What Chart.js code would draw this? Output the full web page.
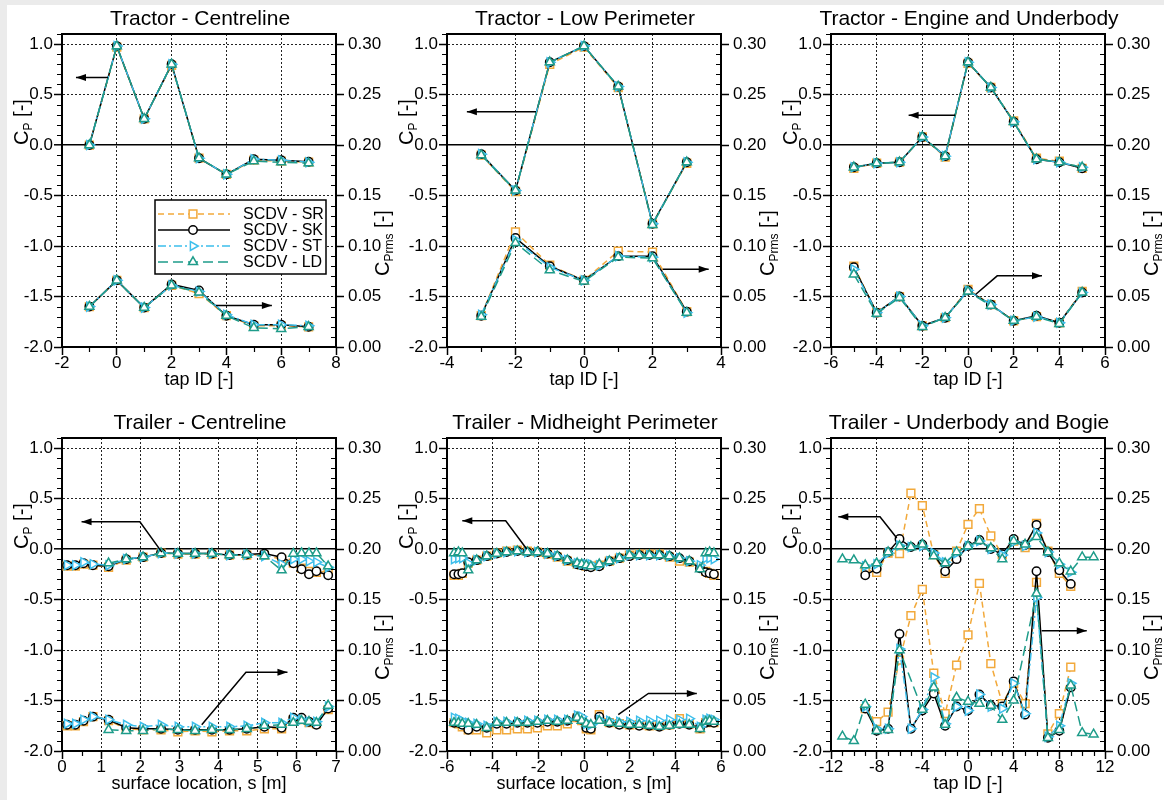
<!DOCTYPE html>
<html>
<head>
<meta charset="utf-8">
<script src="https://cdn.jsdelivr.net/npm/chart.js@4.4.1/dist/chart.umd.min.js"></script>
<style>
  html, body { margin: 0; padding: 0; width: 1164px; height: 800px; overflow: hidden; background: #fff; }
  #bg { position: absolute; left: 0; top: 0; width: 1164px; height: 800px; box-sizing: border-box;
        border-top: 5px solid #ebebeb; border-left: 7px solid #ebebeb; }
  canvas { position: absolute; }
</style>
</head>
<body>
<div id="bg"></div>
<canvas id="c1" width="400" height="396" style="left:0px;top:0px"></canvas>
<canvas id="c2" width="400" height="396" style="left:385px;top:0px"></canvas>
<canvas id="c3" width="400" height="396" style="left:769px;top:0px"></canvas>
<canvas id="c4" width="400" height="396" style="left:0px;top:404px"></canvas>
<canvas id="c5" width="400" height="396" style="left:385px;top:404px"></canvas>
<canvas id="c6" width="400" height="396" style="left:769px;top:404px"></canvas>
<script>
// ---- Tractor - Centreline ----
const t1X = [-1, 0, 1, 2, 3, 4, 5, 6, 7];
const t1CpSR = [0.00, 0.97, 0.26, 0.79, -0.13, -0.29, -0.15, -0.16, -0.17];
const t1CpSK = [0.00, 0.98, 0.26, 0.80, -0.13, -0.29, -0.14, -0.15, -0.165];
const t1CpST = [0.00, 0.98, 0.26, 0.80, -0.13, -0.29, -0.14, -0.15, -0.17];
const t1CpLD = [0.00, 0.98, 0.26, 0.80, -0.13, -0.29, -0.16, -0.17, -0.18];
const t1RmsSR = [0.040, 0.066, 0.039, 0.061, 0.053, 0.031, 0.021, 0.021, 0.020];
const t1RmsSK = [0.040, 0.066, 0.039, 0.062, 0.056, 0.031, 0.022, 0.022, 0.020];
const t1RmsST = [0.040, 0.066, 0.039, 0.061, 0.055, 0.032, 0.022, 0.022, 0.021];
const t1RmsLD = [0.040, 0.066, 0.039, 0.061, 0.054, 0.031, 0.019, 0.018, 0.020];

// ---- Tractor - Low Perimeter ----
const t2X = [-3, -2, -1, 0, 1, 2, 3];
const t2CpSR = [-0.10, -0.46, 0.80, 0.97, 0.57, -0.78, -0.18];
const t2CpSK = [-0.09, -0.45, 0.82, 0.98, 0.58, -0.78, -0.17];
const t2CpST = [-0.09, -0.45, 0.82, 0.98, 0.58, -0.78, -0.17];
const t2CpLD = [-0.10, -0.45, 0.82, 0.98, 0.58, -0.79, -0.17];
const t2RmsSR = [0.031, 0.114, 0.081, 0.066, 0.095, 0.094, 0.035];
const t2RmsSK = [0.031, 0.108, 0.080, 0.066, 0.090, 0.090, 0.035];
const t2RmsST = [0.032, 0.106, 0.079, 0.066, 0.090, 0.089, 0.034];
const t2RmsLD = [0.030, 0.103, 0.076, 0.065, 0.089, 0.088, 0.034];

// ---- Tractor - Engine and Underbody ----
const t3X = [-5, -4, -3, -2, -1, 0, 1, 2, 3, 4, 5];
const t3CpSR = [-0.23, -0.18, -0.17, 0.08, -0.12, 0.81, 0.57, 0.24, -0.13, -0.16, -0.23];
const t3CpSK = [-0.22, -0.18, -0.17, 0.08, -0.11, 0.82, 0.57, 0.23, -0.14, -0.17, -0.23];
const t3CpST = [-0.22, -0.18, -0.17, 0.08, -0.11, 0.82, 0.57, 0.23, -0.14, -0.17, -0.22];
const t3CpLD = [-0.22, -0.18, -0.17, 0.08, -0.11, 0.82, 0.57, 0.23, -0.14, -0.17, -0.22];
const t3RmsSR = [0.080, 0.034, 0.050, 0.021, 0.029, 0.057, 0.042, 0.026, 0.030, 0.024, 0.055];
const t3RmsSK = [0.079, 0.034, 0.050, 0.021, 0.029, 0.056, 0.042, 0.026, 0.031, 0.024, 0.054];
const t3RmsST = [0.077, 0.034, 0.050, 0.021, 0.029, 0.056, 0.042, 0.026, 0.030, 0.024, 0.054];
const t3RmsLD = [0.072, 0.033, 0.049, 0.020, 0.029, 0.055, 0.041, 0.026, 0.030, 0.023, 0.054];

// ---- Trailer - Centreline ----
const r1X = [0.13, 0.34, 0.55, 0.79, 1.19, 1.64, 2.07, 2.53, 2.96, 3.40, 3.83, 4.28, 4.72, 5.17, 5.61, 5.91, 6.12, 6.31, 6.50, 6.80];
const r1CpSR = [-0.17, -0.17, -0.15, -0.16, -0.18, -0.11, -0.08, -0.04, -0.05, -0.05, -0.05, -0.06, -0.06, -0.06, -0.10, -0.14, -0.19, -0.22, -0.23, -0.22];
const r1CpSK = [-0.16, -0.16, -0.14, -0.16, -0.17, -0.10, -0.08, -0.04, -0.045, -0.045, -0.045, -0.06, -0.055, -0.045, -0.08, -0.14, -0.20, -0.25, -0.22, -0.26];
const r1CpST = [-0.16, -0.16, -0.13, -0.15, -0.16, -0.10, -0.08, -0.04, -0.045, -0.045, -0.045, -0.06, -0.055, -0.07, -0.15, -0.10, -0.10, -0.12, -0.13, -0.18];
const r1CpLD = [null, null, null, null, -0.14, -0.10, -0.08, -0.04, -0.045, -0.045, -0.045, -0.06, -0.055, -0.07, -0.21, -0.045, -0.04, -0.04, -0.04, -0.17];
const r1RmsSR = [0.025, 0.025, 0.029, 0.034, 0.030, 0.022, 0.021, 0.021, 0.019, 0.020, 0.019, 0.020, 0.020, 0.022, 0.022, 0.031, 0.031, 0.028, 0.027, 0.041];
const r1RmsSK = [0.026, 0.026, 0.030, 0.034, 0.031, 0.023, 0.022, 0.022, 0.021, 0.021, 0.021, 0.021, 0.022, 0.024, 0.023, 0.033, 0.033, 0.029, 0.026, 0.042];
const r1RmsST = [0.027, 0.027, 0.031, 0.034, 0.031, 0.026, 0.024, 0.026, 0.024, 0.024, 0.024, 0.024, 0.025, 0.028, 0.028, 0.033, 0.031, 0.029, 0.029, 0.044];
const r1RmsLD = [null, null, null, null, 0.021, 0.020, 0.020, 0.022, 0.021, 0.020, 0.021, 0.021, 0.022, 0.025, 0.026, 0.028, 0.030, 0.029, 0.028, 0.045];

// ---- Trailer - Midheight Perimeter ----
const r2X = [-5.69, -5.50, -5.33, -5.07, -4.70, -4.26, -3.82, -3.39, -2.92, -2.48, -2.04, -1.60, -1.17, -0.73, -0.30, -0.10,
             0.10, 0.30, 0.67, 1.11, 1.55, 1.99, 2.42, 2.86, 3.30, 3.74, 4.18, 4.61, 5.08, 5.33, 5.50, 5.69];
const r2CpSR = [-0.26, -0.26, -0.24, -0.14, -0.11, -0.07, -0.04, -0.02, -0.01, -0.02, -0.03, -0.05, -0.08, -0.12, -0.15, -0.16,
                -0.17, -0.17, -0.16, -0.12, -0.09, -0.06, -0.05, -0.05, -0.05, -0.08, -0.12, -0.13, -0.18, -0.22, -0.24, -0.26];
const r2CpSK = [-0.25, -0.25, -0.24, -0.13, -0.11, -0.07, -0.045, -0.03, -0.02, -0.03, -0.03, -0.045, -0.07, -0.11, -0.15, -0.16,
                -0.17, -0.18, -0.17, -0.12, -0.09, -0.07, -0.06, -0.06, -0.06, -0.07, -0.09, -0.12, -0.19, -0.23, -0.24, -0.25];
const r2CpST = [-0.10, -0.09, -0.09, -0.14, -0.11, -0.07, -0.045, -0.03, -0.02, -0.03, -0.03, -0.045, -0.07, -0.11, -0.14, -0.15,
                -0.15, -0.15, -0.16, -0.12, -0.09, -0.06, -0.06, -0.06, -0.06, -0.07, -0.09, -0.12, -0.16, -0.09, -0.09, -0.10];
const r2CpLD = [-0.04, -0.03, -0.04, -0.21, -0.11, -0.07, -0.045, -0.03, -0.02, -0.03, -0.03, -0.045, -0.07, -0.11, -0.14, -0.15,
                -0.16, -0.17, -0.15, -0.12, -0.09, -0.06, -0.06, -0.06, -0.06, -0.07, -0.09, -0.12, -0.20, -0.04, -0.03, -0.04];
const r2RmsSR = [0.028, 0.027, 0.024, 0.021, 0.021, 0.018, 0.021, 0.021, 0.022, 0.022, 0.023, 0.025, 0.025, 0.027, 0.033, 0.030,
                 0.022, 0.021, 0.036, 0.028, 0.027, 0.026, 0.026, 0.025, 0.025, 0.026, 0.032, 0.027, 0.022, 0.028, 0.029, 0.028];
const r2RmsSK = [0.028, 0.028, 0.026, 0.021, 0.024, 0.023, 0.027, 0.027, 0.028, 0.028, 0.028, 0.029, 0.029, 0.030, 0.034, 0.031,
                 0.023, 0.022, 0.034, 0.028, 0.026, 0.026, 0.025, 0.025, 0.024, 0.026, 0.027, 0.026, 0.023, 0.028, 0.029, 0.028];
const r2RmsST = [0.033, 0.032, 0.030, 0.028, 0.027, 0.025, 0.029, 0.029, 0.029, 0.030, 0.030, 0.031, 0.031, 0.031, 0.035, 0.034,
                 0.027, 0.026, 0.031, 0.030, 0.029, 0.029, 0.030, 0.030, 0.030, 0.031, 0.031, 0.032, 0.024, 0.031, 0.032, 0.031];
const r2RmsLD = [0.028, 0.028, 0.027, 0.027, 0.026, 0.023, 0.028, 0.028, 0.028, 0.028, 0.029, 0.030, 0.029, 0.030, 0.033, 0.030,
                 0.027, 0.026, 0.030, 0.028, 0.027, 0.026, 0.026, 0.025, 0.024, 0.025, 0.026, 0.026, 0.022, 0.029, 0.030, 0.029];

// ---- Trailer - Underbody and Bogie ----
const r3X = [-11, -10, -9, -8, -7, -6, -5, -4, -3, -2, -1, 0, 1, 2, 3, 4, 5, 6, 7, 8, 9, 10, 11];
const r3CpSR = [null, null, -0.20, -0.23, -0.04, -0.045, 0.555, 0.43, -0.055, -0.24, -0.02, 0.245, 0.40, 0.13, -0.055, 0.08, 0.015, 0.255, -0.02, -0.24, -0.37, null, null];
const r3CpSK = [null, null, -0.26, -0.195, -0.03, 0.10, 0.02, 0.045, -0.05, -0.22, -0.10, 0.03, 0.09, 0.00, -0.05, 0.10, 0.04, 0.24, -0.03, -0.21, -0.345, null, null];
const r3CpST = [null, null, -0.17, -0.15, -0.04, 0.035, 0.02, 0.03, -0.04, -0.13, -0.04, 0.03, 0.08, 0.00, -0.06, 0.07, 0.03, 0.16, -0.03, -0.15, -0.23, null, null];
const r3CpLD = [-0.10, -0.11, -0.16, -0.14, -0.03, 0.03, 0.02, 0.045, -0.07, -0.14, -0.03, 0.03, 0.08, 0.01, -0.10, 0.08, 0.045, 0.12, -0.03, -0.14, -0.22, -0.08, -0.08];
const r3RmsSR = [null, null, 0.042, 0.029, 0.0385, 0.090, 0.134, 0.160, 0.077, 0.037, 0.085, 0.115, 0.166, 0.0865, 0.047, 0.067, 0.047, 0.167, 0.017, 0.037, 0.083, null, null];
const r3RmsSK = [null, null, 0.042, 0.020, 0.022, 0.116, 0.022, 0.040, 0.057, 0.025, 0.044, 0.040, 0.056, 0.045, 0.044, 0.069, 0.036, 0.178, 0.013, 0.020, 0.063, null, null];
const r3RmsST = [null, null, 0.044, 0.022, 0.022, 0.101, 0.022, 0.041, 0.073, 0.027, 0.044, 0.040, 0.056, 0.044, 0.042, 0.067, 0.037, 0.152, 0.014, 0.025, 0.067, null, null];
const r3RmsLD = [0.0145, 0.010, 0.046, 0.020, 0.021, 0.100, null, 0.041, 0.063, 0.026, 0.053, 0.049, 0.047, 0.045, 0.031, 0.050, null, 0.156, 0.013, 0.021, 0.065, 0.018, 0.0165];

const FONT = '"Liberation Sans", Arial, Helvetica, sans-serif';

const SERIES = [
  { key: 'SR', label: 'SCDV - SR', color: '#F2A93B', dash: [6, 4], point: 'rect', radius: 5.5, rot: 0, order: 3 },
  { key: 'SK', label: 'SCDV - SK', color: '#000000', dash: [], point: 'circle', radius: 4.2, rot: 0, order: 2 },
  { key: 'ST', label: 'SCDV - ST', color: '#3DBFEC', dash: [8, 3, 2, 3], point: 'triangle', radius: 5.2, rot: 90, order: 1 },
  { key: 'LD', label: 'SCDV - LD', color: '#1E9C8A', dash: [10, 5], point: 'triangle', radius: 5.2, rot: 0, order: 0 },
];

const PANELS = [
  { id: 'c1', title: 'Tractor - Centreline', xTitle: 'tap ID [-]', xMin: -2, xMax: 8, xMajor: 2, xMinor: 1, legend: true,
    x: t1X, cp: { SR: t1CpSR, SK: t1CpSK, ST: t1CpST, LD: t1CpLD }, rms: { SR: t1RmsSR, SK: t1RmsSK, ST: t1RmsST, LD: t1RmsLD },
    arrows: [[[-0.32, 0.67], [-1.49, 0.67]], [[3.62, -1.59], [5.66, -1.59]]] },
  { id: 'c2', title: 'Tractor - Low Perimeter', xTitle: 'tap ID [-]', xMin: -4, xMax: 4, xMajor: 2, xMinor: 1,
    x: t2X, cp: { SR: t2CpSR, SK: t2CpSK, ST: t2CpST, LD: t2CpLD }, rms: { SR: t2RmsSR, SK: t2RmsSK, ST: t2RmsST, LD: t2RmsLD },
    arrows: [[[-1.40, 0.33], [-3.42, 0.33]], [[2.30, -1.23], [3.64, -1.23]]] },
  { id: 'c3', title: 'Tractor - Engine and Underbody', xTitle: 'tap ID [-]', xMin: -6, xMax: 6, xMajor: 2, xMinor: 1,
    x: t3X, cp: { SR: t3CpSR, SK: t3CpSK, ST: t3CpST, LD: t3CpLD }, rms: { SR: t3RmsSR, SK: t3RmsSK, ST: t3RmsST, LD: t3RmsLD },
    arrows: [[[-0.56, 0.295], [-2.6, 0.295]], [[0.33, -1.48], [1.28, -1.295], [3.24, -1.295]]] },
  { id: 'c4', title: 'Trailer - Centreline', xTitle: 'surface location, s [m]', xMin: 0, xMax: 7, xMajor: 1, xMinor: 0.5,
    x: r1X, cp: { SR: r1CpSR, SK: r1CpSK, ST: r1CpST, LD: r1CpLD }, rms: { SR: r1RmsSR, SK: r1RmsSK, ST: r1RmsST, LD: r1RmsLD },
    arrows: [[[2.55, -0.03], [1.99, 0.27], [0.50, 0.27]], [[3.57, -1.74], [4.70, -1.22], [5.76, -1.22]]] },
  { id: 'c5', title: 'Trailer - Midheight Perimeter', xTitle: 'surface location, s [m]', xMin: -6, xMax: 6, xMajor: 2, xMinor: 1,
    x: r2X, cp: { SR: r2CpSR, SK: r2CpSK, ST: r2CpST, LD: r2CpLD }, rms: { SR: r2RmsSR, SK: r2RmsSK, ST: r2RmsST, LD: r2RmsLD },
    arrows: [[[-2.51, 0.0], [-3.43, 0.28], [-5.33, 0.28]], [[1.50, -1.64], [2.82, -1.43], [4.94, -1.43]]] },
  { id: 'c6', title: 'Trailer - Underbody and Bogie', xTitle: 'tap ID [-]', xMin: -12, xMax: 12, xMajor: 4, xMinor: 1,
    x: r3X, cp: { SR: r3CpSR, SK: r3CpSK, ST: r3CpST, LD: r3CpLD }, rms: { SR: r3RmsSR, SK: r3RmsSK, ST: r3RmsST, LD: r3RmsLD },
    arrows: [[[-6.24, 0.11], [-7.71, 0.32], [-11.36, 0.32]], [[6.45, -0.81], [10.4, -0.81]]] },
];

const isMajor = (v, step) => Math.abs(v / step - Math.round(v / step)) < 1e-6;
const tickVal = c => (c && c.tick) ? c.tick.value : NaN;

function buildDatasets(p) {
  const out = [];
  SERIES.forEach(s => {
    [['y', p.cp[s.key]], ['y1', p.rms[s.key]]].forEach(([axis, vals]) => {
      out.push({
        label: s.label,
        data: p.x.map((x, i) => ({ x: x, y: vals[i] })),
        xAxisID: 'x', yAxisID: axis,
        borderColor: s.color, backgroundColor: '#fff', borderWidth: 1.5, borderDash: s.dash,
        pointStyle: s.point, pointRadius: s.radius, pointRotation: s.rot,
        pointBorderColor: s.color, pointBackgroundColor: '#fff', pointBorderWidth: 1.5,
        spanGaps: true, tension: 0, fill: false, order: s.order,
      });
    });
  });
  return out;
}

function drawRotTitle(ctx, cx, cy, parts) {
  ctx.save();
  ctx.translate(cx, cy);
  ctx.rotate(-Math.PI / 2);
  ctx.fillStyle = '#000';
  ctx.textBaseline = 'alphabetic';
  let total = 0;
  parts.forEach(q => { ctx.font = q.size + 'px ' + FONT; q.w = ctx.measureText(q.t).width; total += q.w; });
  let x = -total / 2;
  parts.forEach(q => { ctx.font = q.size + 'px ' + FONT; ctx.fillText(q.t, x, 7 + q.dy); x += q.w; });
  ctx.restore();
}

function drawMarker(ctx, s, x, y) {
  Chart.helpers.drawPoint(ctx, { pointStyle: s.point, radius: s.radius, rotation: s.rot, borderWidth: 1.5 }, x, y);
}

function panelPlugin(p) {
  return {
    id: 'panelDeco',
    afterDatasetsDraw(chart) {
      const { ctx, scales } = chart;
      ctx.save();
      ctx.strokeStyle = '#000';
      ctx.fillStyle = '#000';
      ctx.lineWidth = 1.5;
      p.arrows.forEach(path => {
        const px = path.map(([x, y]) => [scales.x.getPixelForValue(x), scales.y.getPixelForValue(y)]);
        ctx.beginPath();
        ctx.moveTo(px[0][0], px[0][1]);
        for (let i = 1; i < px.length; i++) ctx.lineTo(px[i][0], px[i][1]);
        ctx.stroke();
        const [x1, y1] = px[px.length - 2];
        const [x2, y2] = px[px.length - 1];
        const ang = Math.atan2(y2 - y1, x2 - x1);
        const L = 10, W = 3.5;
        ctx.beginPath();
        ctx.moveTo(x2, y2);
        ctx.lineTo(x2 - L * Math.cos(ang) + W * Math.sin(ang), y2 - L * Math.sin(ang) - W * Math.cos(ang));
        ctx.lineTo(x2 - L * Math.cos(ang) - W * Math.sin(ang), y2 - L * Math.sin(ang) + W * Math.cos(ang));
        ctx.closePath();
        ctx.fill();
      });
      ctx.restore();
    },
    afterDraw(chart) {
      const { ctx, chartArea: a, scales } = chart;
      ctx.save();
      // top frame line
      ctx.strokeStyle = '#000';
      ctx.lineWidth = 2;
      ctx.beginPath();
      ctx.moveTo(a.left - 1, a.top);
      ctx.lineTo(a.right + 1, a.top);
      ctx.stroke();
      // minor ticks: outward on x and left axis, inward on right axis
      ctx.lineWidth = 1.2;
      ctx.beginPath();
      scales.x.ticks.forEach(t => {
        if (!isMajor(t.value, p.xMajor)) {
          const x = Math.round(scales.x.getPixelForValue(t.value)) + 0.5;
          ctx.moveTo(x, a.bottom); ctx.lineTo(x, a.bottom + 5);
        }
      });
      scales.y.ticks.forEach(t => {
        if (!isMajor(t.value, 0.5)) {
          const y = Math.round(scales.y.getPixelForValue(t.value)) + 0.5;
          ctx.moveTo(a.left, y); ctx.lineTo(a.left - 5, y);
        }
      });
      scales.y1.ticks.forEach(t => {
        if (!isMajor(t.value, 0.05)) {
          const y = Math.round(scales.y1.getPixelForValue(t.value)) + 0.5;
          ctx.moveTo(a.right - 5, y); ctx.lineTo(a.right, y);
        }
      });
      ctx.stroke();
      ctx.restore();

      // axis titles with subscripts
      drawRotTitle(ctx, a.left - 41, a.top + 88,
        [{ t: 'C', size: 20, dy: 0 }, { t: 'P', size: 12, dy: 4 }, { t: ' [-]', size: 20, dy: 0 }]);
      drawRotTitle(ctx, a.right + 46, a.top + 209,
        [{ t: 'C', size: 20, dy: 0 }, { t: 'Prms', size: 12, dy: 4 }, { t: ' [-]', size: 20, dy: 0 }]);

      // legend box
      if (p.legend) {
        const bx = a.left + 93, by = a.top + 166, bw = 171, bh = 74;
        ctx.save();
        ctx.fillStyle = '#fff';
        ctx.fillRect(bx, by, bw, bh);
        ctx.strokeStyle = '#000';
        ctx.lineWidth = 1.5;
        ctx.strokeRect(bx, by, bw, bh);
        SERIES.forEach((s, i) => {
          const y = by + 14 + i * 16;
          ctx.strokeStyle = s.color;
          ctx.lineWidth = 1.5;
          ctx.setLineDash(s.dash);
          ctx.beginPath();
          ctx.moveTo(bx + 3, y); ctx.lineTo(bx + 75, y);
          ctx.stroke();
          ctx.setLineDash([]);
          ctx.fillStyle = '#fff';
          drawMarker(ctx, s, bx + 38, y);
          ctx.fillStyle = '#000';
          ctx.font = '16px ' + FONT;
          ctx.textBaseline = 'middle';
          ctx.fillText(s.label, bx + 88, y + 1);
        });
        ctx.restore();
      }
    }
  };
}

function makePanel(p) {
  const tickFont = { family: FONT, size: 17 };
  new Chart(document.getElementById(p.id), {
    type: 'line',
    data: { datasets: buildDatasets(p) },
    options: {
      responsive: false,
      animation: false,
      layout: { padding: 0 },
      plugins: {
        legend: { display: false },
        tooltip: { enabled: false },
        title: { display: true, text: p.title, color: '#000',
                 font: { family: FONT, size: 21, weight: 'normal', lineHeight: 1.2 }, padding: { top: 7, bottom: 1.8 } },
      },
      scales: {
        x: {
          type: 'linear', position: 'bottom', min: p.xMin, max: p.xMax,
          afterFit: s => { s.height = 49; },
          ticks: { stepSize: p.xMinor, autoSkip: false, maxRotation: 0, padding: -2, color: '#000', font: tickFont,
                   callback: v => isMajor(v, p.xMajor) ? String(Number(v.toFixed(2))) : '' },
          grid: { color: c => isMajor(tickVal(c), p.xMajor) ? '#222' : 'rgba(0,0,0,0)', lineWidth: 1,
                  tickLength: 8, tickWidth: 1.5,
                  tickColor: c => isMajor(tickVal(c), p.xMajor) ? '#000' : 'rgba(0,0,0,0)' },
          border: { color: '#000', width: 2, dash: [2, 2] },
          title: { display: true, text: p.xTitle, color: '#000', font: { family: FONT, size: 18 },
                   padding: { top: 0, bottom: 5 } },
        },
        y: {
          type: 'linear', position: 'left', min: -2, max: 1.1,
          afterFit: s => { s.width = 62; },
          ticks: { stepSize: 0.1, autoSkip: false, padding: 1, color: '#000', font: tickFont,
                   callback: v => isMajor(v, 0.5) ? (Math.abs(v) < 1e-9 ? '0.0' : v.toFixed(1)) : '' },
          grid: { color: c => isMajor(tickVal(c), 0.5) ? (Math.abs(tickVal(c)) < 1e-9 ? '#000' : '#222') : 'rgba(0,0,0,0)',
                  lineWidth: c => Math.abs(tickVal(c)) < 1e-9 ? 1.6 : 1,
                  tickLength: 8, tickWidth: 1.5,
                  tickColor: c => isMajor(tickVal(c), 0.5) ? '#000' : 'rgba(0,0,0,0)' },
          border: { color: '#000', width: 2, dash: c => Math.abs(tickVal(c)) < 1e-9 ? [] : [2, 2] },
        },
        y1: {
          type: 'linear', position: 'right', min: 0, max: 0.31,
          afterFit: s => { s.width = 64; },
          ticks: { stepSize: 0.01, autoSkip: false, padding: 4, color: '#000', font: tickFont,
                   callback: v => isMajor(v, 0.05) ? v.toFixed(2) : '' },
          grid: { drawOnChartArea: false, tickLength: 8, tickWidth: 1.5,
                  tickColor: c => isMajor(tickVal(c), 0.05) ? '#000' : 'rgba(0,0,0,0)' },
          border: { color: '#000', width: 2 },
        },
      },
    },
    plugins: [panelPlugin(p)],
  });
}

PANELS.forEach(makePanel);
</script>
</body>
</html>
